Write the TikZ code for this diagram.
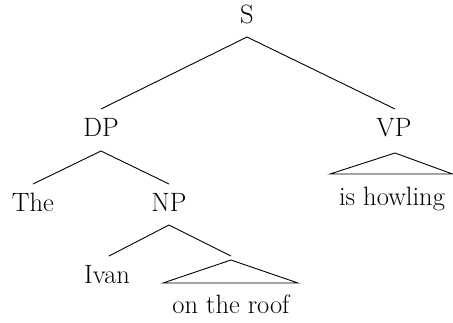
\documentclass[tikz,border=0pt]{standalone}
\usepackage{fontspec}
\setmainfont{Latin Modern Roman}
\begin{document}
\begin{tikzpicture}[x=1pt,y=-1pt,
  lab/.style={anchor=base,inner sep=0pt,font=\fontsize{26.5}{30}\selectfont},
  br/.style={line width=0.9pt}]
\useasboundingbox (0,0) rectangle (453,322);
% labels
\node[lab] (S) at (247,23) {S};
\node[lab] (DP) at (101,136) {DP};
\node[lab] (VP) at (394,136) {VP};
\node[lab] (The) at (33,211) {The};
\node[lab] (NP) at (169,211) {NP};
\node[lab] (howl) at (392,205) {is howling};
\node[lab] (Ivan) at (107,283) {Ivan};
\node[lab] (roof) at (231,313) {on the roof};
% branch points
\coordinate (Sb) at (247,37);
\coordinate (DPt) at (101,109);
\coordinate (VPt) at (395,109);
\coordinate (DPb) at (101,151);
\coordinate (Thet) at (33,184);
\coordinate (NPt) at (169,184);
\coordinate (VPa) at (395,153);
\coordinate (VPl) at (330,174);
\coordinate (VPr) at (452.5,174);
\coordinate (NPb) at (169,225);
\coordinate (Ivant) at (109,256);
\coordinate (PPt) at (231,256);
\coordinate (PPa) at (231,260);
\coordinate (PPl) at (163,283);
\coordinate (PPr) at (298,283);
% branches
\draw[br] (DPt) -- (Sb) -- (VPt);
\draw[br] (Thet) -- (DPb) -- (NPt);
\draw[br] (Ivant) -- (NPb) -- (PPt);
\draw[br] (VPa) -- (VPl) -- (VPr) -- cycle;
\draw[br] (PPa) -- (PPl) -- (PPr) -- cycle;
\end{tikzpicture}
\end{document}
